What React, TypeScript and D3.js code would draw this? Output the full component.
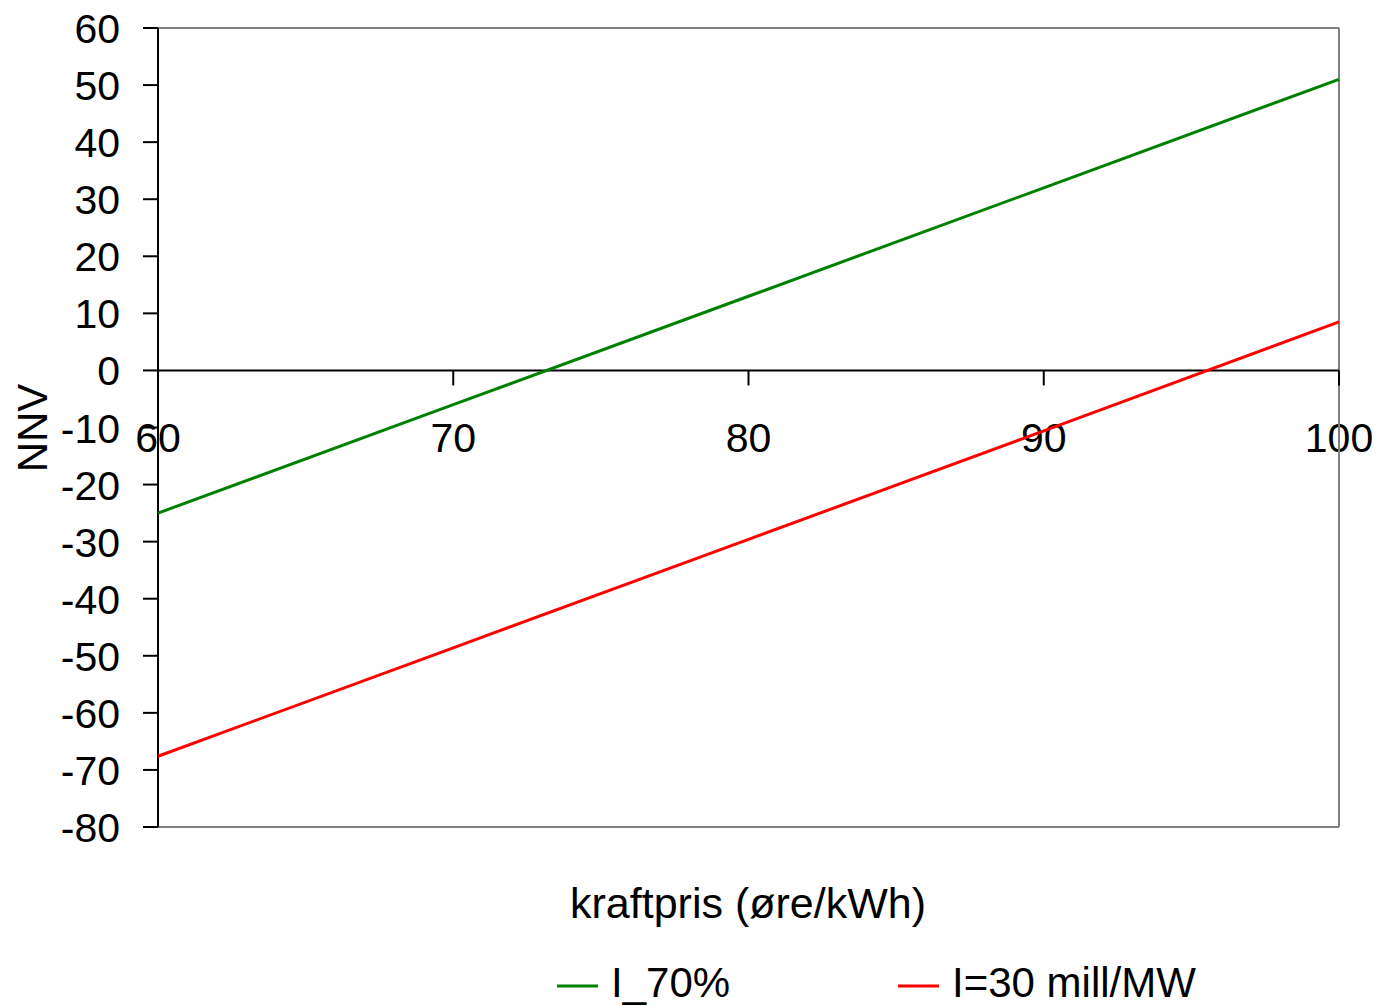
import React from "react";
import * as d3 from "d3";

const xValues = [60, 70, 80, 90, 100];
const seriesNames = ["I_70%", "I=30 mill/MW"];
const seriesColors = ["#008000", "#ff0000"];
const greenValues = [-25.0, -6.0, 13.0, 32.0, 51.0];
const redValues = [-67.6, -48.6, -29.6, -10.6, 8.5];
const yTicks = [60, 50, 40, 30, 20, 10, 0, -10, -20, -30, -40, -50, -60, -70, -80];
const xTicks = [60, 70, 80, 90, 100];

const W = 1379;
const H = 1006;
const left = 158;
const right = 1339;
const top = 28;
const bottom = 827;
const FONT = "'Liberation Sans', Arial, sans-serif";

export default function App() {
  const x = d3.scaleLinear().domain([60, 100]).range([left, right]);
  const y = d3.scaleLinear().domain([-80, 60]).range([bottom, top]);
  const line = d3
    .line<[number, number]>()
    .x((d) => x(d[0]))
    .y((d) => y(d[1]));
  const series = [greenValues, redValues];
  const y0 = y(0);

  return (
    <svg
      width={W}
      height={H}
      style={{ position: "absolute", left: 0, top: 0, background: "#fff" }}
      fontFamily={FONT}
    >
      {/* x tick labels (under lines) */}
      {xTicks.map((t) => (
        <text key={"xl" + t} x={x(t)} y={y0 + 82} fontSize={41} textAnchor="middle" fill="#000">
          {t}
        </text>
      ))}
      {/* y tick labels */}
      {yTicks.map((t) => (
        <text key={"yl" + t} x={120} y={y(t) + 15} fontSize={41} textAnchor="end" fill="#000">
          {t}
        </text>
      ))}
      {/* plot border */}
      <line x1={left} x2={right} y1={top} y2={top} stroke="#808080" strokeWidth={2} />
      <line x1={right} x2={right} y1={top} y2={bottom} stroke="#808080" strokeWidth={2} />
      <line x1={left} x2={right} y1={bottom} y2={bottom} stroke="#808080" strokeWidth={2} />
      {/* y axis */}
      <line x1={left} x2={left} y1={top} y2={bottom} stroke="#000" strokeWidth={2} />
      {yTicks.map((t) => (
        <line key={"yt" + t} x1={left - 15} x2={left} y1={y(t)} y2={y(t)} stroke="#000" strokeWidth={2} />
      ))}
      {/* zero line / x axis */}
      <line x1={left} x2={right} y1={y0} y2={y0} stroke="#000" strokeWidth={2} />
      {xTicks.map((t) => (
        <line key={"xt" + t} x1={x(t)} x2={x(t)} y1={y0} y2={y0 + 15} stroke="#000" strokeWidth={2} />
      ))}
      {/* data lines */}
      {series.map((vals, i) => (
        <path
          key={"s" + i}
          d={line(xValues.map((v, j) => [v, vals[j]] as [number, number])) || ""}
          fill="none"
          stroke={seriesColors[i]}
          strokeWidth={3}
        />
      ))}
      {/* axis titles */}
      <text x={748} y={918} fontSize={43} textAnchor="middle" fill="#000">
        kraftpris (øre/kWh)
      </text>
      <text
        transform={`translate(47,428) rotate(-90)`}
        fontSize={42}
        textAnchor="middle"
        fill="#000"
      >
        NNV
      </text>
      {/* legend */}
      {seriesNames.map((name, i) => {
        const lx = i === 0 ? 557 : 898;
        return (
          <g key={"lg" + i}>
            <line x1={lx} x2={lx + 41} y1={986} y2={986} stroke={seriesColors[i]} strokeWidth={3} />
            <text x={lx + 54} y={997} fontSize={42} fill="#000">
              {name}
            </text>
          </g>
        );
      })}
    </svg>
  );
}
